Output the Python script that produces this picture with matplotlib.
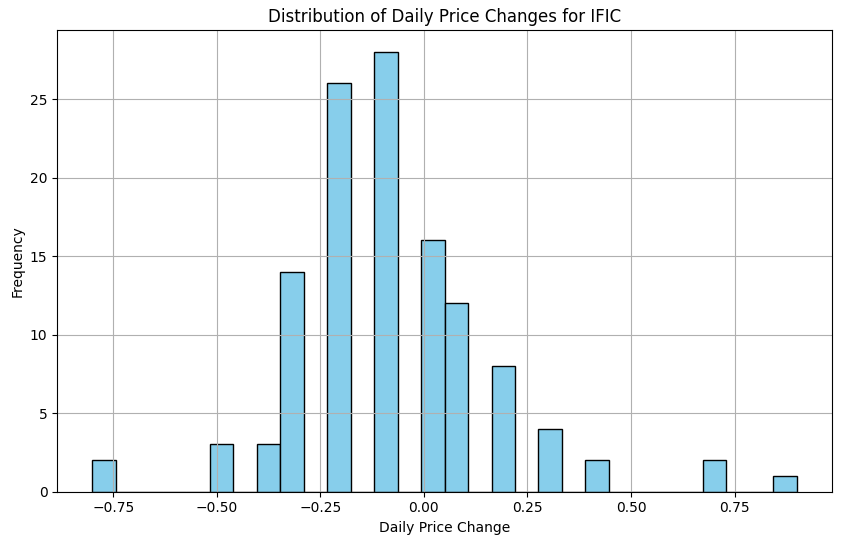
import numpy as np
import matplotlib
matplotlib.use("Agg")
import matplotlib.pyplot as plt

bin_min, bin_max, n_bins = -0.8, 0.9, 30
counts = [2,0,0,0,0,3,0,3,14,0,26,0,28,0,16,12,0,8,0,4,0,2,0,0,0,0,2,0,0,1]

edges = np.linspace(bin_min, bin_max, n_bins + 1)
fig, ax = plt.subplots(figsize=(8.42, 5.45), dpi=100)
fig.subplots_adjust(left=0.068, right=0.988, top=0.945, bottom=0.098)
ax.bar(edges[:-1], counts, width=np.diff(edges), align='edge',
       color='skyblue', edgecolor='black')
ax.set_title('Distribution of Daily Price Changes for IFIC')
ax.set_xlabel('Daily Price Change')
ax.set_ylabel('Frequency')
ax.grid(True)
fig.savefig('out.png')
